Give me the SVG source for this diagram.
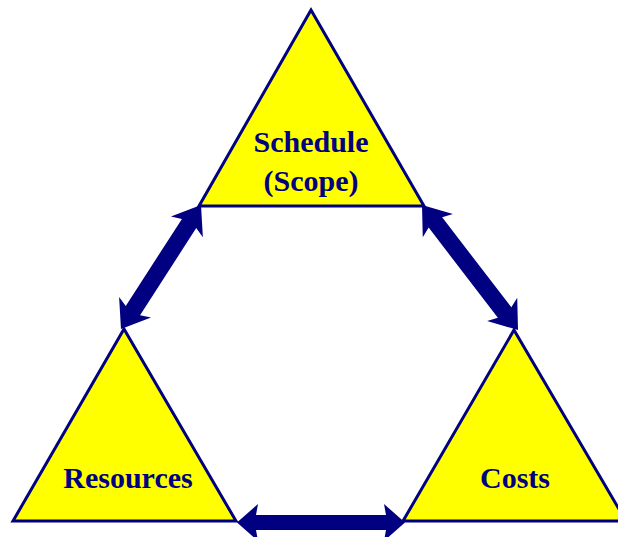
<svg xmlns="http://www.w3.org/2000/svg" width="618" height="537" viewBox="0 0 618 537">
<style>
.tri{fill:#ffff00;stroke:#000080;stroke-width:3;stroke-linejoin:miter}
.lbl{font-family:"Liberation Serif","Times New Roman",serif;font-weight:bold;font-size:30px;fill:#000080;text-anchor:middle}
.arr{fill:#000080}
</style>
<g id="connectors">
<polygon class="arr" transform="translate(201,205) rotate(122.83)" points="0,0 26,-19 22,-8.5 125.6,-8.5 121.6,-19 147.6,0 121.6,19 125.6,8.5 22,8.5 26,19"/>
<polygon class="arr" transform="translate(422,205) rotate(52.47)" points="0,0 26,-19 22,-8.5 135.6,-8.5 131.6,-19 157.6,0 131.6,19 135.6,8.5 22,8.5 26,19"/>
<polygon class="arr" transform="translate(237,522.5)" points="0,0 21,-18.5 19,-7.5 149,-7.5 147,-18.5 168,0 147,18.5 149,7.5 19,7.5 21,18.5"/>
</g>
<g id="node-schedule">
<polygon class="tri" points="311,10 424,206 199,206"/>
<text class="lbl" x="311" y="152">Schedule</text>
<text class="lbl" x="311" y="191">(Scope)</text>
</g>
<g id="node-resources">
<polygon class="tri" points="124,329 236,521 13,521"/>
<text class="lbl" x="128" y="488">Resources</text>
</g>
<g id="node-costs">
<polygon class="tri" points="514,330 626,521 403,521"/>
<text class="lbl" x="515" y="488">Costs</text>
</g>
</svg>
